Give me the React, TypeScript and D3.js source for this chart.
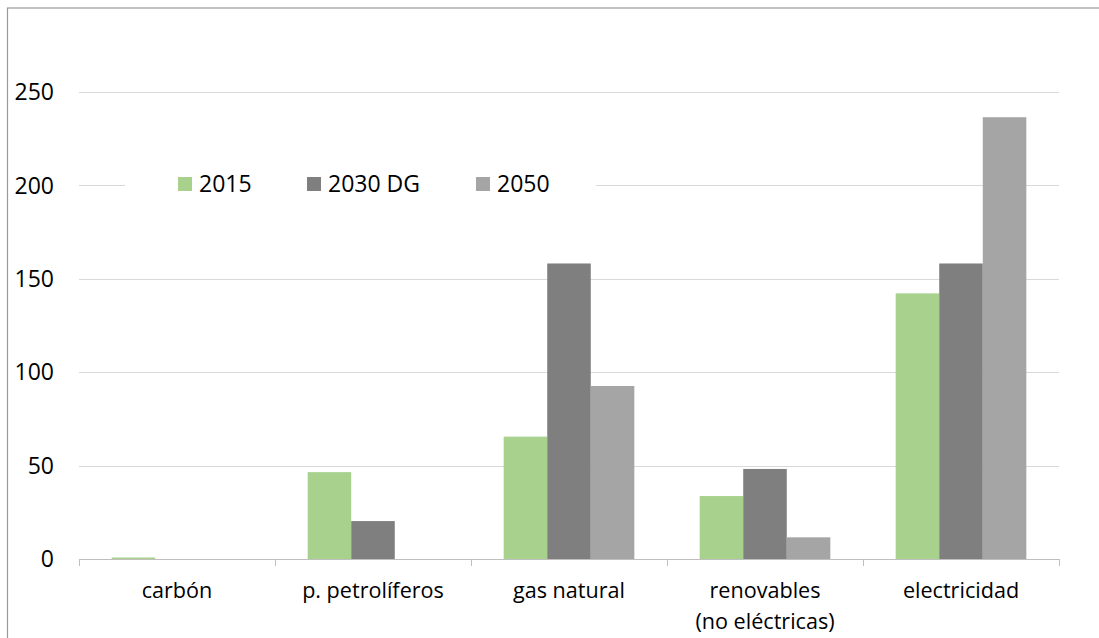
import React from "react";
import * as d3 from "d3";

const categories = ["carbón", "p. petrolíferos", "gas natural", "renovables\n(no eléctricas)", "electricidad"];
const seriesNames = ["2015", "2030 DG", "2050"];
const values2015 = [0.8, 46.5, 65.5, 33.7, 142.2];
const values2030 = [0, 20.3, 158.2, 48.2, 158.2];
const values2050 = [0, 0, 92.6, 11.6, 236.5];
const yTicks = [0, 50, 100, 150, 200, 250];
const colors = ["#a9d18e", "#7f7f7f", "#a5a5a5"];

const W = 1099;
const H = 638;
const margin = { left: 79, right: 1059, top: 92, bottom: 559 };
const FONT = "'Open Sans', sans-serif";

export default function App() {
  const series = [values2015, values2030, values2050];
  const x = d3.scaleBand<string>().domain(categories).range([margin.left, margin.right]).paddingInner(0).paddingOuter(0);
  const y = d3.scaleLinear().domain([0, 250]).range([margin.bottom, margin.top]);

  // Excel gap width 150%: bar width = band / 4.5
  const bw = x.bandwidth() / 4.5;
  const groupOffset = (x.bandwidth() - 3 * bw) / 2;
  const tickXs = categories.map((c) => x(c)!).concat([margin.right]);

  return (
    <svg width={W} height={H} style={{ position: "absolute", left: 0, top: 0 }} fontFamily={FONT}>
      <rect x={0} y={0} width={W} height={H} fill="#fff" />
      <rect x={7.5} y={8} width={W + 20} height={H + 20} fill="none" stroke="#999" strokeWidth={1.2} />
      {yTicks.slice(1).map((t) => (
        <line key={t} x1={margin.left} x2={margin.right} y1={Math.round(y(t)) + 0.5} y2={Math.round(y(t)) + 0.5} stroke="#d9d9d9" strokeWidth={1} />
      ))}
      {yTicks.map((t) => (
        <text key={"l" + t} x={54} y={y(t)} dy="0.36em" textAnchor="end" fontSize={23} fill="#000">
          {t}
        </text>
      ))}
      {series.map((vals, si) =>
        categories.map((c, ci) => {
          const v = vals[ci];
          if (v <= 0) return null;
          const x0 = x(c)! + groupOffset + si * bw;
          return <rect key={si + "-" + ci} x={x0} y={y(v)} width={bw} height={y(0) - y(v)} fill={colors[si]} />;
        })
      )}
      <line x1={margin.left} x2={margin.right} y1={y(0) + 0.5} y2={y(0) + 0.5} stroke="#bfbfbf" strokeWidth={1} />
      {tickXs.map((tx, i) => (
        <line key={"t" + i} x1={Math.round(tx) + 0.5} x2={Math.round(tx) + 0.5} y1={y(0)} y2={y(0) + 7} stroke="#bfbfbf" strokeWidth={1} />
      ))}
      {categories.map((c) => {
        const lines = c.split("\n");
        return (
          <text key={"c" + c} x={x(c)! + x.bandwidth() / 2} y={598} textAnchor="middle" fontSize={21.6} fill="#000">
            {lines.map((ln, i) => (
              <tspan key={i} x={x(c)! + x.bandwidth() / 2} dy={i === 0 ? 0 : 31}>
                {ln}
              </tspan>
            ))}
          </text>
        );
      })}
      <rect x={125} y={170} width={471} height={30} fill="#fff" />
      {seriesNames.map((s, i) => {
        const lx = [178, 307, 476][i];
        return (
          <g key={"lg" + s}>
            <rect x={lx} y={177} width={14} height={14} fill={colors[i]} />
            <text x={lx + 21} y={184} dy="0.36em" fontSize={23} fill="#000">
              {s}
            </text>
          </g>
        );
      })}
    </svg>
  );
}
